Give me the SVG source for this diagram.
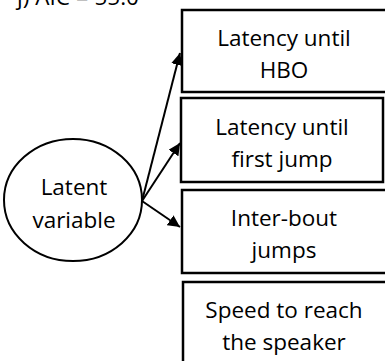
<svg xmlns="http://www.w3.org/2000/svg" width="385" height="361" viewBox="0 0 385 361">
<defs>
<marker id="ah" viewBox="0 0 10 10" refX="10" refY="5" markerWidth="6" markerHeight="6" markerUnits="strokeWidth" orient="auto">
<path d="M0,0 L10,5 L0,10 z" fill="#000"/>
</marker>
<style>
.box{fill:#fff;stroke:#000;stroke-width:2.5}
.t{font-family:"Open Sans","Liberation Sans",sans-serif;font-size:22.5px;fill:#000;text-anchor:middle}
.c{stroke:#000;stroke-width:2;fill:none;marker-end:url(#ah)}
</style>
</defs>
<rect width="385" height="361" fill="#fff"/>
<text x="17" y="5" class="t" style="text-anchor:start">j) AIC = 55.0</text>
<g id="latent">
<ellipse cx="73" cy="200" rx="69" ry="61" fill="#fff" stroke="#000" stroke-width="2"/>
<text x="74" y="195" class="t">Latent</text>
<text x="74" y="228" class="t">variable</text>
</g>
<g id="hbo">
<rect class="box" x="182" y="10" width="205" height="82"/>
<text x="284" y="46" class="t">Latency until</text>
<text x="284" y="78" class="t">HBO</text>
</g>
<g id="firstjump">
<rect class="box" x="181" y="98" width="202" height="84"/>
<text x="282" y="135" class="t">Latency until</text>
<text x="282" y="167" class="t">first jump</text>
</g>
<g id="interbout">
<rect class="box" x="182" y="190" width="205" height="83"/>
<text x="284" y="226" class="t">Inter-bout</text>
<text x="284" y="258" class="t">jumps</text>
</g>
<g id="speed">
<rect class="box" x="183" y="282" width="204" height="85"/>
<text x="284" y="318" class="t">Speed to reach</text>
<text x="284" y="350" class="t">the speaker</text>
</g>
<g id="connectors">
<line class="c" x1="142" y1="201" x2="180" y2="53"/>
<line class="c" x1="142" y1="201" x2="180" y2="143"/>
<line class="c" x1="142" y1="201" x2="180" y2="227"/>
</g>
</svg>
